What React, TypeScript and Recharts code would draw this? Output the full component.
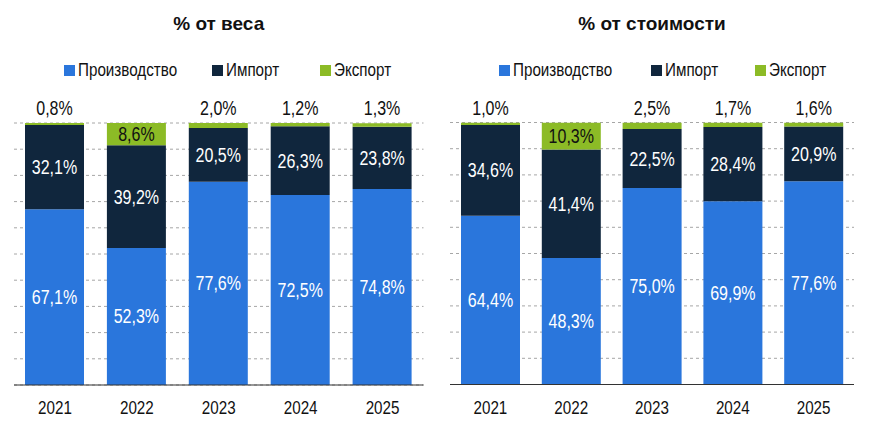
import React from 'react';
import { BarChart, Bar, XAxis, YAxis, CartesianGrid, LabelList } from 'recharts';

const years = ['2021', '2022', '2023', '2024', '2025'];

const weightProduction = [67.1, 52.3, 77.6, 72.5, 74.8];
const weightImport = [32.1, 39.2, 20.5, 26.3, 23.8];
const weightExport = [0.8, 8.6, 2.0, 1.2, 1.3];

const costProduction = [64.4, 48.3, 75.0, 69.9, 77.6];
const costImport = [34.6, 41.4, 22.5, 28.4, 20.9];
const costExport = [1.0, 10.3, 2.5, 1.7, 1.6];

const percentTicks = [0, 10, 20, 30, 40, 50, 60, 70, 80, 90, 100];

const seriesNames = ['Производство', 'Импорт', 'Экспорт'];
const seriesColors = ['#2A76DC', '#10263D', '#8CBB26'];

const SANS = "'Liberation Sans', Arial, sans-serif";
// condensed look: regular sans squeezed horizontally
const SQUEEZE = 0.8;

const fmt = (v: number) => v.toFixed(1).replace('.', ',') + '%';

const NarrowText = ({ x, y, fill, size, children }: any) => (
  <text
    transform={`translate(${x},${y}) scale(${SQUEEZE},1)`}
    x={0}
    y={0}
    textAnchor="middle"
    fill={fill}
    fontFamily={SANS}
    fontSize={size}
  >
    {children}
  </text>
);

const centerLabel = (color: string) => (props: any) => {
  const { x, y, width, height, value } = props;
  return (
    <NarrowText x={x + width / 2} y={y + height / 2 + 7} fill={color} size={20}>
      {fmt(value)}
    </NarrowText>
  );
};

// small export shares are labelled above the stack, larger ones inside it
const exportLabel = (props: any) => {
  const { x, y, width, height, value } = props;
  const inside = value >= 5;
  return (
    <NarrowText x={x + width / 2} y={inside ? y + height / 2 + 7 : y - 8} fill="#111" size={20}>
      {fmt(value)}
    </NarrowText>
  );
};

const YearTick = (props: any) => {
  const { x, y, payload } = props;
  return (
    <NarrowText x={x} y={y + 29} fill="#111" size={19}>
      {payload.value}
    </NarrowText>
  );
};

type PanelProps = {
  title: string;
  production: number[];
  imports: number[];
  exports: number[];
  left: number;
  margin: { top: number; right: number; bottom: number; left: number };
  legendX: number[];
};

function Panel({ title, production, imports, exports, left, margin, legendX }: PanelProps) {
  const data = years.map((year, i) => ({
    year,
    production: production[i],
    imports: imports[i],
    exports: exports[i],
  }));
  return (
    <div style={{ position: 'absolute', left, top: 0, width: 443, height: 431 }}>
      <div
        style={{
          position: 'absolute',
          top: 12,
          left: margin.left,
          width: 443 - margin.left - margin.right,
          textAlign: 'center',
          fontFamily: SANS,
          fontWeight: 'bold',
          fontSize: 19,
          color: '#111',
          lineHeight: '24px',
        }}
      >
        {title}
      </div>
      {seriesNames.map((name, i) => (
        <div
          key={name}
          style={{
            position: 'absolute',
            top: 58,
            left: legendX[i],
            height: 24,
            display: 'flex',
            alignItems: 'center',
            color: '#111',
            whiteSpace: 'nowrap',
          }}
        >
          <span
            style={{
              display: 'inline-block',
              width: 11,
              height: 11,
              background: seriesColors[i],
              marginRight: 3,
            }}
          />
          <span
            style={{
              display: 'inline-block',
              fontFamily: SANS,
              fontSize: 19,
              transform: `scaleX(${SQUEEZE})`,
              transformOrigin: 'left center',
            }}
          >
            {name}
          </span>
        </div>
      ))}
      <BarChart width={443} height={431} data={data} margin={margin} barSize={59}>
        <CartesianGrid vertical={false} stroke="#A6A6A6" strokeDasharray="3 3" />
        <YAxis hide domain={[0, 100]} ticks={percentTicks} allowDataOverflow />
        <XAxis
          dataKey="year"
          axisLine={{ stroke: '#333', strokeWidth: 1.2 }}
          tickLine={false}
          tickSize={0}
          tickMargin={0}
          height={30}
          tick={<YearTick />}
        />
        <Bar dataKey="production" stackId="s" fill={seriesColors[0]} isAnimationActive={false}>
          <LabelList dataKey="production" content={centerLabel('#FFFFFF')} />
        </Bar>
        <Bar dataKey="imports" stackId="s" fill={seriesColors[1]} isAnimationActive={false}>
          <LabelList dataKey="imports" content={centerLabel('#FFFFFF')} />
        </Bar>
        <Bar dataKey="exports" stackId="s" fill={seriesColors[2]} isAnimationActive={false}>
          <LabelList dataKey="exports" content={exportLabel} />
        </Bar>
      </BarChart>
    </div>
  );
}

export default function App() {
  return (
    <div style={{ position: 'absolute', left: 0, top: 0, width: 886, height: 431, background: '#fff' }}>
      <Panel
        title="% от веса"
        production={weightProduction}
        imports={weightImport}
        exports={weightExport}
        left={0}
        margin={{ top: 123, right: 19.5, bottom: 16, left: 14 }}
        legendX={[64, 212, 320]}
      />
      <Panel
        title="% от стоимости"
        production={costProduction}
        imports={costImport}
        exports={costExport}
        left={443}
        margin={{ top: 122.5, right: 32, bottom: 16.5, left: 7 }}
        legendX={[56, 208, 312]}
      />
    </div>
  );
}
